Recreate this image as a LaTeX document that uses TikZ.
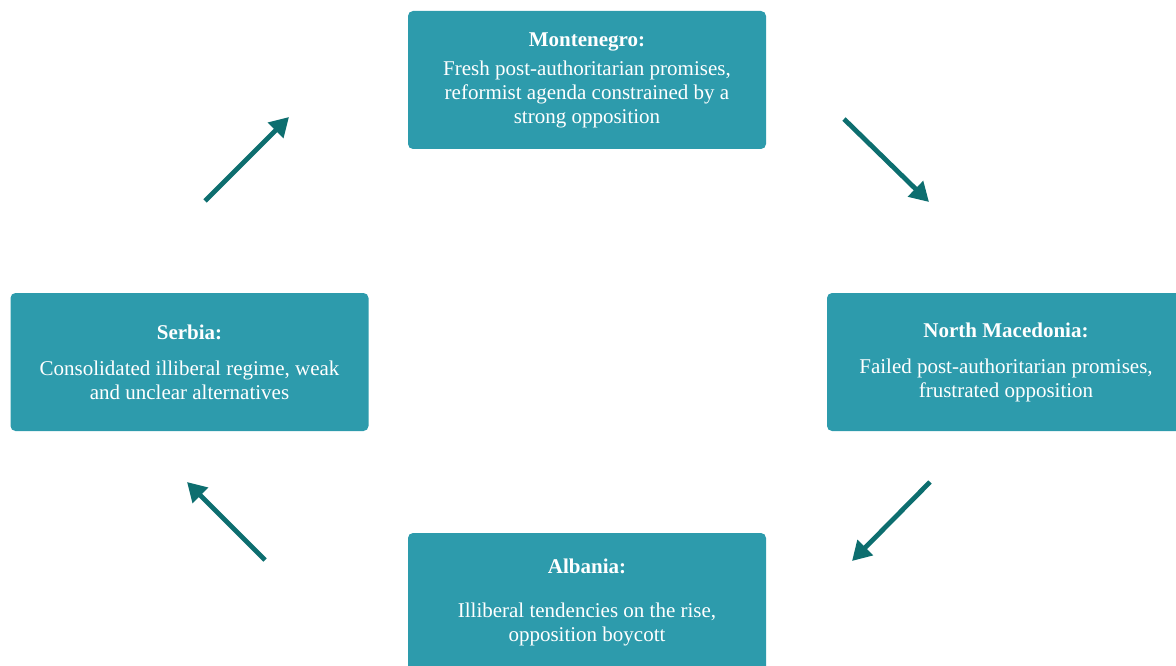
\documentclass[tikz,border=0pt]{standalone}
\usepackage{fontspec}
\setmainfont{Liberation Serif}
\usepackage{xcolor}
\usetikzlibrary{arrows.meta}
\usetikzlibrary{positioning}

\definecolor{boxteal}{HTML}{2D9BAC}
\definecolor{arrowteal}{HTML}{0D6E6F}

\begin{document}
\begin{tikzpicture}[x=1pt, y=-1pt,
  country/.style={rectangle, rounded corners=5pt, fill=boxteal, text=white,
    minimum width=358pt, minimum height=138pt, inner sep=0pt, align=center,
    font=\fontsize{21}{24}\selectfont},
  flow/.style={draw=arrowteal, line width=4.8pt,
    -{Triangle[length=19pt, width=21pt]}}]

\useasboundingbox (0,0) rectangle (1176,666);

\node[country] (mne) at (587,80) {\textbf{Montenegro:}\\[5pt]
Fresh post-authoritarian promises,\\
reformist agenda constrained by a\\
strong opposition};

\node[country] (mkd) at (1006,362) {\textbf{North Macedonia:}\\[12pt]
Failed post-authoritarian promises,\\
frustrated opposition};

\node[country] (alb) at (587,602) {\textbf{Albania:}\\[20pt]
Illiberal tendencies on the rise,\\
opposition boycott};

\node[country] (srb) at (189.5,362) {\textbf{Serbia:}\\[12pt]
Consolidated illiberal regime, weak\\
and unclear alternatives};

\coordinate (srb out) at (205,201);
\coordinate (mne in) at (289,117);
\coordinate (mne out) at (844,119);
\coordinate (mkd in) at (929,202);
\coordinate (mkd out) at (930,482);
\coordinate (alb in) at (852,561);
\coordinate (alb out) at (265,560);
\coordinate (srb in) at (187,482);

\path[flow] (srb out) -- (mne in);
\path[flow] (mne out) -- (mkd in);
\path[flow] (mkd out) -- (alb in);
\path[flow] (alb out) -- (srb in);

\end{tikzpicture}
\end{document}
